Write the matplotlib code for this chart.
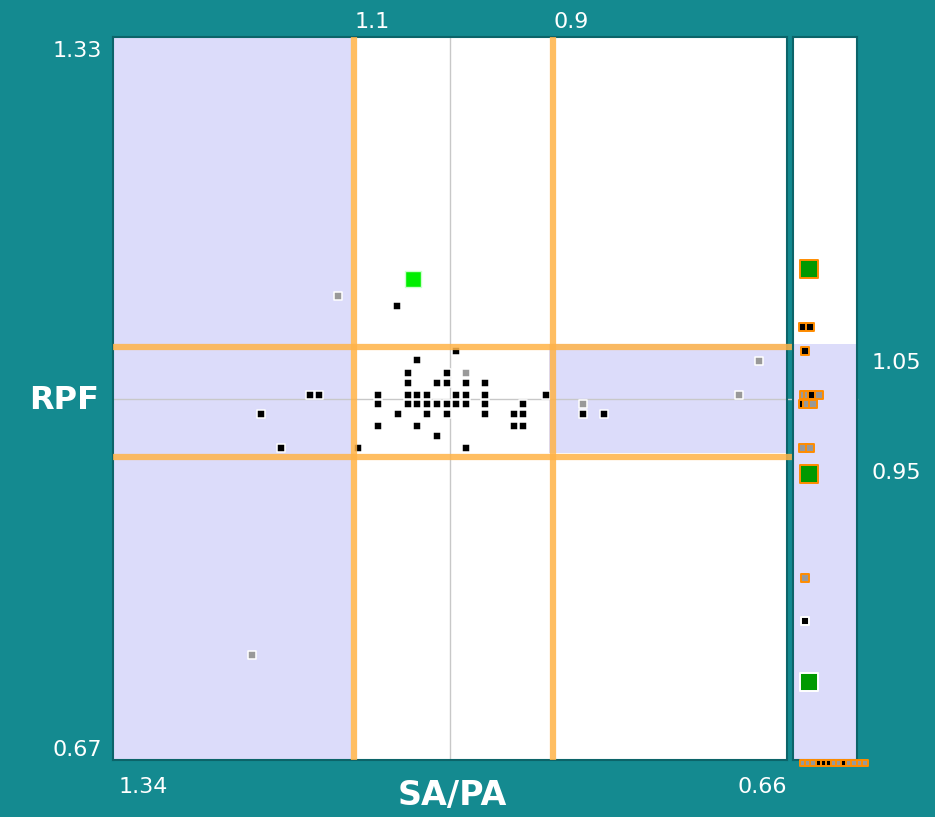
import numpy as np
import matplotlib
matplotlib.use('Agg')
import matplotlib.pyplot as plt
import matplotlib.transforms as mtrans

# main plot points (SA/PA, RPF)
black_x = [1.033,
           1.042, 1.003,
           1.042, 1.013, 1.003, 0.984, 0.965,
           1.073, 1.042, 1.033, 1.023, 0.994, 0.984, 0.965, 0.903,
           1.073, 1.042, 1.033, 1.023, 1.013, 1.003, 0.994, 0.984, 0.965, 0.926,
           1.052, 1.023, 1.003, 0.965, 0.935, 0.926,
           1.073, 1.033, 0.935, 0.926,
           1.013,
           1.093, 0.984,
           0.994, 1.053, 1.141, 1.132, 1.191, 1.171, 0.866, 0.845]
black_y = [1.035,
           1.023, 1.023,
           1.014, 1.014, 1.014, 1.014, 1.014,
           1.003, 1.003, 1.003, 1.003, 1.003, 1.003, 1.003, 1.003,
           0.995, 0.995, 0.995, 0.995, 0.995, 0.995, 0.995, 0.995, 0.995, 0.995,
           0.986, 0.986, 0.986, 0.986, 0.986, 0.986,
           0.975, 0.975, 0.975, 0.975,
           0.966,
           0.955, 0.955,
           1.043, 1.084, 1.003, 1.003, 0.986, 0.955, 0.986, 0.986]
gray_x = [0.984, 1.113, 0.688, 0.708, 0.866, 1.200]
gray_y = [1.023, 1.094, 1.034, 1.003, 0.995, 0.766]
lime_x = [1.037]
lime_y = [1.109]

# side strip (off-scale SA/PA), strip position 0..1 across the strip
strip_x = [0.25, 0.16, 0.27, 0.18,
           0.17, 0.24, 0.30, 0.40,
           0.15, 0.22, 0.32,
           0.16, 0.26,
           0.25, 0.19, 0.19, 0.25]
strip_y = [1.118, 1.065, 1.065, 1.043,
           1.003, 1.003, 1.003, 1.003,
           0.995, 0.995, 0.995,
           0.955, 0.955,
           0.931, 0.836, 0.797, 0.741]
strip_kind = ['g', 'b', 'b', 'b',
              'a', 'a', 'b', 'a',
              'b', 'a', 'a',
              'a', 'a',
              'g', 'a', 'b', 'g']
strip_out = [1, 1, 1, 1, 1, 1, 1, 1, 1, 1, 1, 1, 1, 1, 1, 0, 0]

# off-scale low row below strip
low_x = [0.16, 0.24, 0.32, 0.40, 0.48, 0.56, 0.64, 0.72, 0.80, 0.88, 0.96, 1.04, 1.13]
low_kind = ['a', 'a', 'a', 'b', 'b', 'b', 'a', 'a', 'b', 'a', 'a', 'a', 'a']

x_lo, x_hi = 0.66, 1.34
y_lo, y_hi = 0.67, 1.33
sa_lines = [1.1, 0.9]
rpf_lines = [1.05, 0.95]

teal = '#148a90'
lav = '#dcdcfa'
orange = '#ffb347'
edgec = '#0c6469'
fcol = {'b': 'black', 'a': '#999999', 'g': '#009900'}

W, H = 935, 817
fig = plt.figure(figsize=(W / 100, H / 100), dpi=100, facecolor=teal)
ax = fig.add_axes([113 / W, 1 - 760 / H, 674 / W, 723 / H])
sx = fig.add_axes([793 / W, 1 - 760 / H, 64 / W, 723 / H])

ax.set_xlim(x_hi, x_lo)
ax.set_ylim(y_lo, y_hi)
sx.set_xlim(0, 1)
sx.set_ylim(y_lo, y_hi)
for a in (ax, sx):
    a.set_facecolor('white')
    a.set_xticks([])
    a.set_yticks([])
    for s in a.spines.values():
        s.set_color(edgec)
        s.set_linewidth(1.5)

# shaded zones
shift_x = mtrans.ScaledTranslation(3.5 / 100, 0, fig.dpi_scale_trans)
shift_y = mtrans.ScaledTranslation(0, -3.5 / 100, fig.dpi_scale_trans)
ax.axvspan(sa_lines[0], x_hi, color=lav, lw=0, zorder=0)
ax.fill_between([x_lo, sa_lines[1]], rpf_lines[1], rpf_lines[0], color=lav, lw=0, zorder=0)
sx.axhspan(y_lo, rpf_lines[0], color=lav, lw=0, zorder=0)

# reference lines
ext = (857 - 113) / 674
ax.axvline(1.0, color='#c8c8c8', lw=1, zorder=1)
ax.axhline(1.0, xmax=ext, color='#c8c8c8', lw=1, zorder=1, clip_on=False)
for v in sa_lines:
    ln = ax.axvline(v, color=orange, lw=4.5, alpha=0.85, zorder=5, solid_capstyle='butt')
    ln.set_transform(ln.get_transform() + shift_x)
for v in rpf_lines:
    ln = ax.axhline(v, xmax=ext, color=orange, lw=4.5, alpha=0.85, zorder=5,
                    clip_on=False, solid_capstyle='butt')
    ln.set_transform(ln.get_transform() + shift_y)

# main points
ax.scatter(black_x, black_y, marker='s', s=5.2 ** 2, c='black', edgecolors='white', linewidths=1.1, zorder=3)
ax.scatter(gray_x, gray_y, marker='s', s=5.2 ** 2, c='#999999', edgecolors='white', linewidths=1.1, zorder=3)
ax.scatter(lime_x, lime_y, marker='s', s=11 ** 2, c='#00ee00', edgecolors='#ccffcc', linewidths=1.0, zorder=3)

# strip points
for x, y, k, o in zip(strip_x, strip_y, strip_kind, strip_out):
    size = 13 if k == 'g' else 5.6
    sx.scatter([x], [y], marker='s', s=size ** 2, c=fcol[k],
               edgecolors=('#ff8c00' if o else 'white'), linewidths=1.4, zorder=3)
low_y = y_lo - 0.003
for x, k in zip(low_x, low_kind):
    sx.scatter([x], [low_y], marker='s', s=4.6 ** 2, c=fcol[k], edgecolors='#ff8c00',
               linewidths=1.4, zorder=6, clip_on=False)

# labels
tk = dict(color='white', fontsize=16, family='DejaVu Sans')
ax.text(-0.016, 0.981, '1.33', transform=ax.transAxes, ha='right', va='center', **tk)
ax.text(-0.016, 0.014, '0.67', transform=ax.transAxes, ha='right', va='center', **tk)
ax.text(0.008, -0.037, '1.34', transform=ax.transAxes, ha='left', va='center', **tk)
ax.text(1.0, -0.037, '0.66', transform=ax.transAxes, ha='right', va='center', **tk)
top = mtrans.blended_transform_factory(ax.transData, ax.transAxes)
for v in sa_lines:
    ax.text(v - 0.004, 1.021, f'{v:g}', transform=top, ha='left', va='center', **tk)
rside = mtrans.blended_transform_factory(sx.transAxes, sx.transData)
for v in rpf_lines:
    sx.text(1.23, v - 0.018, f'{v:g}', transform=rside, ha='left', va='center', **tk)

fig.text(64 / W, 1 - 400 / H, 'RPF', color='white', fontsize=23, fontweight='bold', ha='center', va='center')
fig.text(452 / W, 1 - 795 / H, 'SA/PA', color='white', fontsize=24, fontweight='bold', ha='center', va='center')

fig.savefig('out.png', dpi=100, facecolor=teal)
